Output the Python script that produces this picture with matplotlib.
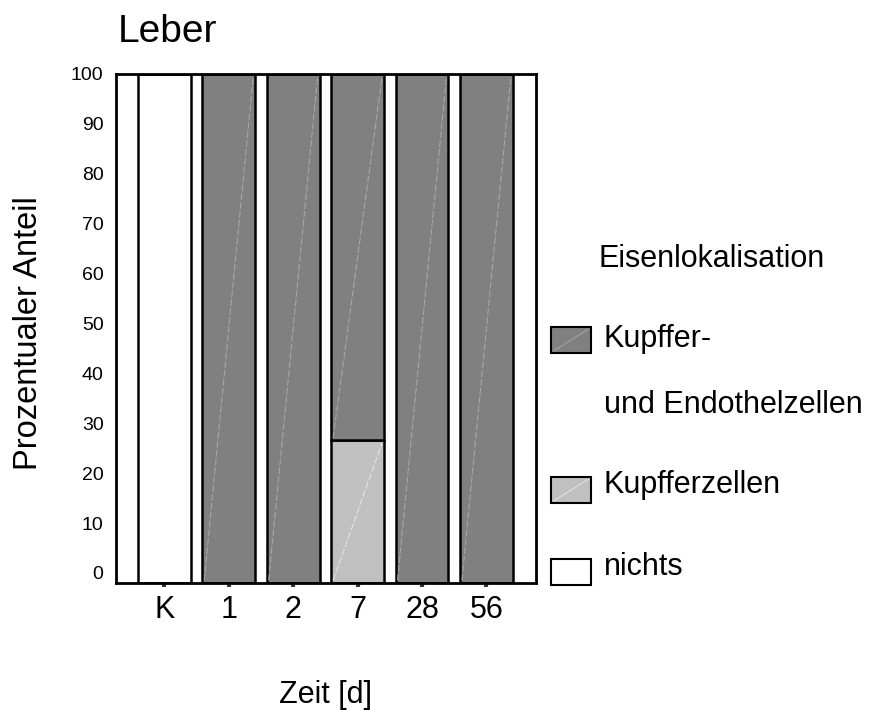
import matplotlib
matplotlib.use("Agg")
import matplotlib.pyplot as plt
from matplotlib.patches import Rectangle
from matplotlib.transforms import ScaledTranslation
import numpy as np

plt.rcParams['font.family'] = ['Liberation Sans', 'DejaVu Sans']

categories = ['K', '1', '2', '7', '28', '56']
nichts = [100, 0, 0, 0, 0, 0]
kupfferzellen = [0, 0, 0, 28, 0, 0]
kupffer_endo = [0, 100, 100, 72, 100, 100]
yticks = [0, 10, 20, 30, 40, 50, 60, 70, 80, 90, 100]

title = 'Leber'
ylabel = 'Prozentualer Anteil'
xlabel = 'Zeit [d]'
legend_title = 'Eisenlokalisation'
legend_labels = ['Kupffer-', 'und Endothelzellen', 'Kupfferzellen', 'nichts']

c_dark = '#808080'
c_light = '#c0c0c0'
c_white = '#ffffff'

fig = plt.figure(figsize=(8.77, 7.10), dpi=100)
ax = fig.add_axes([0.1323, 0.1789, 0.4789, 0.7169])

x = np.arange(len(categories))
w = 0.82
series = [(nichts, c_white, None), (kupfferzellen, c_light, '#e4e4e4'), (kupffer_endo, c_dark, '#a6a6a6')]
bottom = np.zeros(len(categories))
for vals, col, diag in series:
    vals = np.array(vals, dtype=float)
    ax.bar(x, vals, w, bottom=bottom, color=col, edgecolor='black', linewidth=1.8, zorder=2)
    if diag is not None:
        for xi, b, v in zip(x, bottom, vals):
            if v > 0:
                ax.plot([xi - w / 2 + 0.03, xi + w / 2 - 0.03], [b + 0.5, b + v - 0.5],
                        color=diag, lw=0.8, ls=(0, (6, 2)), zorder=3)
    bottom += vals

ax.set_xlim(-0.75, 5.77)
ax.set_ylim(0, 100)
ax.set_yticks(yticks)
ax.set_yticklabels([str(t) for t in yticks], fontsize=14)
ax.set_xticks(x)
ax.set_xticklabels(categories, fontsize=22)
ax.tick_params(axis='y', length=0, pad=9)
ax.tick_params(axis='x', length=3, width=3, color='#333333', pad=6)
for s in ax.spines.values():
    s.set_linewidth(2)

# reference tick labels sit slightly compressed toward the top
for t, lab in zip(yticks, ax.get_yticklabels()):
    dy = (10 - 0.1 * t) / 100.0
    lab.set_transform(lab.get_transform() + ScaledTranslation(0, dy, fig.dpi_scale_trans))

fig.text(0.1345, 0.9408, title, fontsize=28, ha='left', va='baseline')
fig.text(0.3706, 0.0099, xlabel, fontsize=22, ha='center', va='baseline')
fig.text(0.033, 0.531, ylabel, fontsize=23.5, rotation=90, ha='center', va='center')

# legend
fig.text(0.682, 1 - 267 / 710, legend_title, fontsize=22, ha='left', va='baseline')
pw, ph = 40 / 877, 26 / 710
px = 551 / 877
for ybot, col, diag in [(1 - 353 / 710, c_dark, '#a6a6a6'), (1 - 503 / 710, c_light, '#e4e4e4'), (1 - 585 / 710, c_white, None)]:
    fig.patches.append(Rectangle((px, ybot), pw, ph, transform=fig.transFigure,
                                 facecolor=col, edgecolor='black', linewidth=1.5))
    if diag is not None:
        fig.lines.append(plt.Line2D([px + 0.003, px + pw - 0.003], [ybot + 0.003, ybot + ph - 0.003],
                                    transform=fig.transFigure, color=diag, lw=0.7))
tx = 604 / 877
for lab, base in zip(legend_labels, [347, 413, 493, 575]):
    fig.text(tx, 1 - base / 710, lab, fontsize=22, ha='left', va='baseline')

fig.savefig('out.png', dpi=100)
